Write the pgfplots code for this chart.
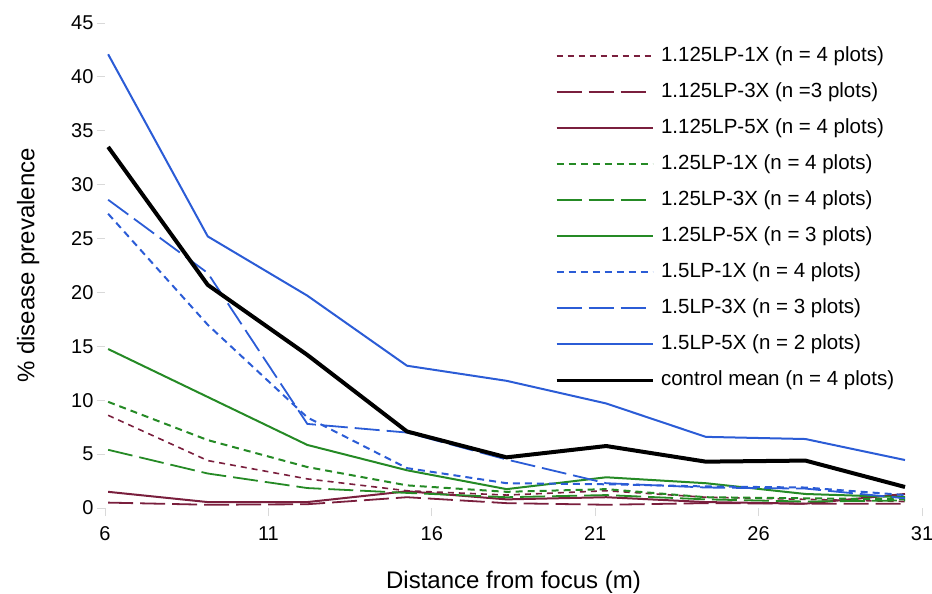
\documentclass[border=0pt]{standalone}
\usepackage{pgfplots}
\pgfplotsset{compat=1.18}
\usepackage{fontspec}
\setmainfont{Liberation Sans}
\definecolor{maroon}{HTML}{7A1F3D}
\definecolor{dgreen}{HTML}{258A25}
\definecolor{myblue}{HTML}{2B5CD6}
\begin{document}
\begin{tikzpicture}
\useasboundingbox (-105pt,-86pt) rectangle (827pt,508pt);
\begin{axis}[
 scale only axis, width=817pt, height=485pt,
 xmin=6, xmax=31, ymin=0, ymax=45,
 xtick={6,11,16,21,26,31}, ytick={0,5,...,45},
 axis line style={draw=none},
 xtick pos=bottom, ytick pos=left, tick align=outside,
 major tick length=8pt,
 every tick/.style={draw=gray!30, line width=0.8pt},
 tick label style={font=\fontsize{20}{24}\selectfont},
 xticklabel style={yshift=-7pt},
 /pgf/number format/assume math mode=true,
 xlabel={Distance from focus (m)},
 ylabel={\% disease prevalence},
 label style={font=\fontsize{24}{28}\selectfont},
 xlabel style={at={(axis description cs:0.5,-0.1526)}, anchor=center},
 ylabel style={at={(axis description cs:-0.094,0.5)}, anchor=center},
 legend cell align=left,
 legend style={draw=none, fill=none, at={(axis description cs:0.547,0.955)}, anchor=north west,
   font=\fontsize{20.5}{24}\selectfont, row sep=18pt, column sep=7pt,
   nodes={inner sep=0pt, text height=14pt, text depth=4pt}},
 legend image code/.code={\draw[#1] (0pt,0pt) -- (96pt,0pt);},
]
\addplot[maroon, line width=1.6pt, dash pattern=on 6pt off 5pt] coordinates {
(6.096,8.6) (9.144,4.4) (12.192,2.7) (15.24,1.6) (18.288,1.2) (21.336,1.6) (24.384,1.0) (27.432,0.8) (30.48,0.6)};
\addlegendentry{1.125LP-1X (n = 4 plots)}
\addplot[maroon, line width=1.8pt, dash pattern=on 25pt off 7pt] coordinates {
(6.096,0.5) (9.144,0.3) (12.192,0.35) (15.24,1.0) (18.288,0.45) (21.336,0.3) (24.384,0.45) (27.432,0.4) (30.48,0.4)};
\addlegendentry{1.125LP-3X (n =3 plots)}
\addplot[maroon, line width=2pt] coordinates {
(6.096,1.5) (9.144,0.55) (12.192,0.55) (15.24,1.55) (18.288,0.8) (21.336,1.0) (24.384,0.55) (27.432,0.4) (30.48,1.3)};
\addlegendentry{1.125LP-5X (n = 4 plots)}
\addplot[dgreen, line width=2pt, dash pattern=on 7pt off 5pt] coordinates {
(6.096,9.85) (9.144,6.3) (12.192,3.8) (15.24,2.1) (18.288,1.5) (21.336,1.75) (24.384,1.0) (27.432,0.9) (30.48,0.8)};
\addlegendentry{1.25LP-1X (n = 4 plots)}
\addplot[dgreen, line width=1.8pt, dash pattern=on 25pt off 7pt] coordinates {
(6.096,5.4) (9.144,3.2) (12.192,1.85) (15.24,1.4) (18.288,1.0) (21.336,1.2) (24.384,0.8) (27.432,0.6) (30.48,0.7)};
\addlegendentry{1.25LP-3X (n = 4 plots)}
\addplot[dgreen, line width=2pt] coordinates {
(6.096,14.75) (9.144,10.3) (12.192,5.85) (15.24,3.5) (18.288,1.75) (21.336,2.85) (24.384,2.3) (27.432,1.3) (30.48,1.0)};
\addlegendentry{1.25LP-5X (n = 3 plots)}
\addplot[myblue, line width=2pt, dash pattern=on 7pt off 5pt] coordinates {
(6.096,27.3) (9.144,17.0) (12.192,8.4) (15.24,3.7) (18.288,2.3) (21.336,2.2) (24.384,2.0) (27.432,1.9) (30.48,1.2)};
\addlegendentry{1.5LP-1X (n = 4 plots)}
\addplot[myblue, line width=1.8pt, dash pattern=on 25pt off 7pt] coordinates {
(6.096,28.6) (9.144,21.8) (12.192,7.8) (15.24,7.0) (18.288,4.5) (21.336,2.3) (24.384,1.9) (27.432,1.8) (30.48,0.9)};
\addlegendentry{1.5LP-3X (n = 3 plots)}
\addplot[myblue, line width=2pt] coordinates {
(6.096,42.1) (9.144,25.2) (12.192,19.7) (15.24,13.2) (18.288,11.8) (21.336,9.7) (24.384,6.6) (27.432,6.4) (30.48,4.45)};
\addlegendentry{1.5LP-5X (n = 2 plots)}
\addplot[black, line width=4pt, forget plot] coordinates {
(6.096,33.5) (9.144,20.7) (12.192,14.2) (15.24,7.1) (18.288,4.7) (21.336,5.75) (24.384,4.3) (27.432,4.4) (30.48,1.95)};
\addlegendimage{black, line width=3pt}
\addlegendentry{control mean (n = 4 plots)}
\end{axis}
\end{tikzpicture}
\end{document}
